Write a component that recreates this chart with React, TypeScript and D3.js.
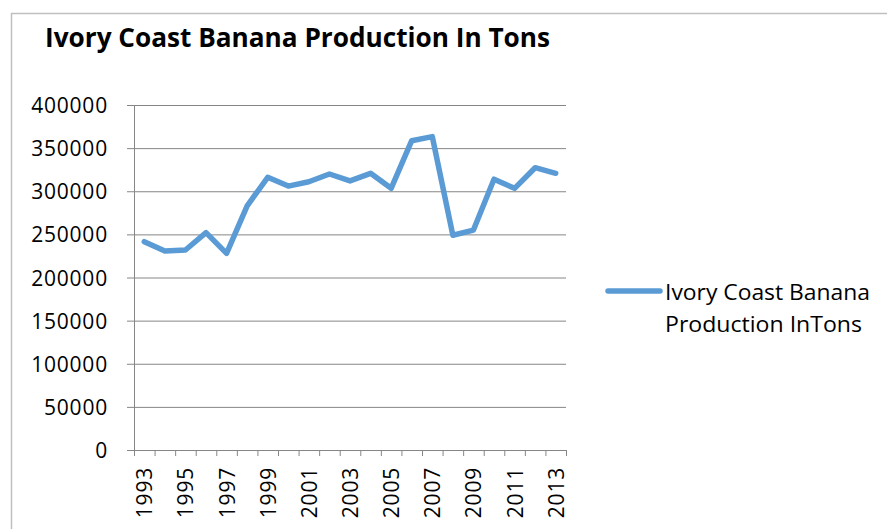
import React from "react";
import * as d3 from "d3";

const years: number[] = [1993, 1994, 1995, 1996, 1997, 1998, 1999, 2000, 2001, 2002, 2003, 2004, 2005, 2006, 2007, 2008, 2009, 2010, 2011, 2012, 2013];
const production: number[] = [241500, 230700, 231900, 252000, 228000, 283000, 316200, 306000, 311000, 320000, 312000, 320800, 303400, 358600, 363300, 249000, 255000, 314000, 303400, 327300, 320800];
const yTicks: number[] = [0, 50000, 100000, 150000, 200000, 250000, 300000, 350000, 400000];
const xLabelYears: number[] = [1993, 1995, 1997, 1999, 2001, 2003, 2005, 2007, 2009, 2011, 2013];
const title = "Ivory Coast Banana Production In Tons";
const legendLines: string[] = ["Ivory Coast Banana", "Production InTons"];

const W = 887;
const H = 529;
const plotLeft = 134;
const plotRight = 566;
const plotTop = 105;
const plotBottom = 450;
const FONT = "'Open Sans', 'Liberation Sans', sans-serif";
const GRID = "#868686";
const LINE = "#5b9bd5";

export default function App() {
  const x = d3
    .scaleBand<number>()
    .domain(years)
    .range([plotLeft, plotRight])
    .paddingInner(0)
    .paddingOuter(0);
  const y = d3.scaleLinear().domain([0, 400000]).range([plotBottom, plotTop]);

  const line = d3
    .line<number>()
    .x((_, i) => (x(years[i]) as number) + x.bandwidth() / 2)
    .y((d) => y(d));

  const boundaries = years.map((yr) => x(yr) as number).concat([plotRight]);

  return (
    <svg
      width={W}
      height={H}
      style={{ position: "absolute", left: 0, top: 0, background: "#fff" }}
    >
      <rect x={0} y={0} width={W} height={H} fill="#fff" />
      <rect x={11.5} y={13.5} width={W + 20} height={H + 20} fill="none" stroke="#bfbfbf" strokeWidth={1.5} />

      <text
        x={45}
        y={47}
        fontFamily={FONT}
        fontWeight="bold"
        fontSize={26}
        fill="#000"
        textLength={505}
        lengthAdjust="spacingAndGlyphs"
      >
        {title}
      </text>

      {/* gridlines & y ticks */}
      {yTicks.map((t) => (
        <g key={t}>
          <line x1={plotLeft - 7} x2={plotRight} y1={y(t) + 0.5} y2={y(t) + 0.5} stroke={GRID} strokeWidth={1} />
          <text
            x={108}
            y={y(t)}
            textAnchor="end"
            dominantBaseline="central"
            fontFamily={FONT}
            fontSize={21}
            letterSpacing={0.8}
            fill="#000"
          >
            {t}
          </text>
        </g>
      ))}

      {/* y axis line */}
      <line x1={plotLeft + 0.5} x2={plotLeft + 0.5} y1={plotTop} y2={plotBottom + 6} stroke={GRID} strokeWidth={1} />

      {/* x ticks */}
      {boundaries.map((bx, i) => (
        <line key={i} x1={bx + 0.5} x2={bx + 0.5} y1={plotBottom} y2={plotBottom + 6} stroke={GRID} strokeWidth={1} />
      ))}

      {/* x labels */}
      {xLabelYears.map((yr) => {
        const cx = (x(yr) as number) + x.bandwidth() / 2;
        return (
          <text
            key={yr}
            transform={`translate(${cx},${467}) rotate(-90)`}
            textAnchor="end"
            dominantBaseline="central"
            fontFamily={FONT}
            fontSize={21}
            letterSpacing={0.8}
            fill="#000"
          >
            {yr}
          </text>
        );
      })}

      <path
        d={line(production) || ""}
        fill="none"
        stroke={LINE}
        strokeWidth={5.5}
        strokeLinejoin="round"
        strokeLinecap="round"
      />

      {/* legend */}
      <line x1={608} x2={660} y1={291} y2={291} stroke={LINE} strokeWidth={5.5} strokeLinecap="round" />
      {legendLines.map((s, i) => (
        <text
          key={i}
          x={665}
          y={300 + i * 31.7}
          fontFamily={FONT}
          fontSize={22}
          fill="#000"
          textLength={i === 0 ? 205 : 197}
          lengthAdjust="spacingAndGlyphs"
        >
          {s}
        </text>
      ))}
    </svg>
  );
}
